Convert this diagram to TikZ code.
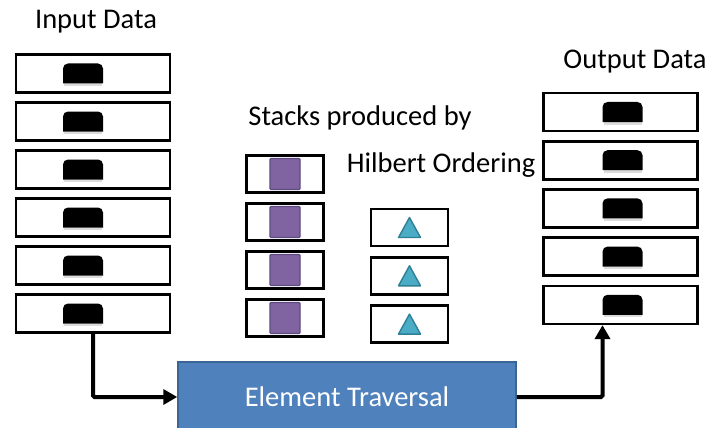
\documentclass[tikz,border=0pt]{standalone}
\usepackage{fontspec}
\setmainfont{Carlito}
\usetikzlibrary{arrows.meta,calc}
\definecolor{sqfill}{HTML}{8064A2}
\definecolor{sqline}{HTML}{5C4A80}
\definecolor{trfill}{HTML}{4BACC6}
\definecolor{trline}{HTML}{2F7F96}
\definecolor{etfill}{HTML}{4F81BD}
\definecolor{etline}{HTML}{3B6594}
\tikzset{
  cell/.style={draw=black, line width=2.6pt, fill=white, rectangle, inner sep=0pt},
  datacell/.style={cell, minimum width=154pt, minimum height=38pt},
  stackcell/.style={cell, minimum width=77pt, minimum height=37pt},
  label/.style={font=\fontsize{28.5}{30}\selectfont, inner sep=0pt, anchor=center},
  link/.style={line width=4pt, -{Triangle[length=14pt,width=15pt]}, rounded corners=1.5pt},
}
% black token with rounded top corners, centred at #1 (offsets in canvas units, y up)
\newcommand\token[1]{%
  \fill[black!30, opacity=0.45] ($#1+(-19pt,-10pt)$) rectangle ($#1+(19pt,-12.5pt)$);
  \fill[black] ($#1+(-20pt,-10pt)$) -- ($#1+(-20pt,5pt)$) arc[start angle=180, end angle=90, radius=5pt]
     -- ($#1+(15pt,10pt)$) arc[start angle=90, end angle=0, radius=5pt] -- ($#1+(20pt,-10pt)$) -- cycle;
}
\begin{document}
\begin{tikzpicture}[x=1pt,y=-1pt]
\useasboundingbox (0,0) rectangle (726,428);
\clip (0,0) rectangle (726,428);
\fill[white] (0,0) rectangle (726,428);

% headings
\node[label] (tin)  at (96,22)  {Input Data};
\node[label] (tout) at (635,62) {Output Data};
\node[label] (ts1)  at (360,118) {Stacks produced by};
\node[label] (ts2)  at (441,165) {Hilbert Ordering};

% input column
\foreach \i in {1,...,6} {
  \node[datacell] (in\i) at (93,{73.5+(\i-1)*48}) {};
  \token{(in\i.center)+(-10pt,0)}
}
% output column
\foreach \i in {1,...,5} {
  \node[datacell] (out\i) at (620.5,{112+(\i-1)*48.2}) {};
  \token{(out\i.center)+(2pt,0)}
}
% square stack
\foreach \i in {1,...,4} {
  \node[stackcell] (sq\i) at (285,{174+(\i-1)*48}) {};
  \fill[sqfill, draw=sqline, line width=1.4pt, rounded corners=1pt] ($(sq\i.center)+(-15pt,-15.5pt)$) rectangle ($(sq\i.center)+(15pt,15.5pt)$);
}
% triangle stack
\foreach \i in {1,...,3} {
  \node[stackcell] (tr\i) at (409.5,{227.5+(\i-1)*48.3}) {};
  \fill[trfill, draw=trline, line width=1.4pt, line join=round] ($(tr\i.center)+(-11pt,-10pt)$) -- ($(tr\i.center)+(0,10pt)$) -- ($(tr\i.center)+(11pt,-10pt)$) -- cycle;
}

% traversal block
\node[draw=etline, fill=etfill, line width=1.5pt, minimum width=338pt, minimum height=70pt,
      inner sep=0pt, font=\fontsize{28.5}{30}\selectfont, text=white] (et) at (347,397) {Element Traversal};

% connectors
\draw[link] (in6.south) |- (et.west);
\draw[link] (et.east) -| ([xshift=-18pt]out5.south);
\end{tikzpicture}
\end{document}
